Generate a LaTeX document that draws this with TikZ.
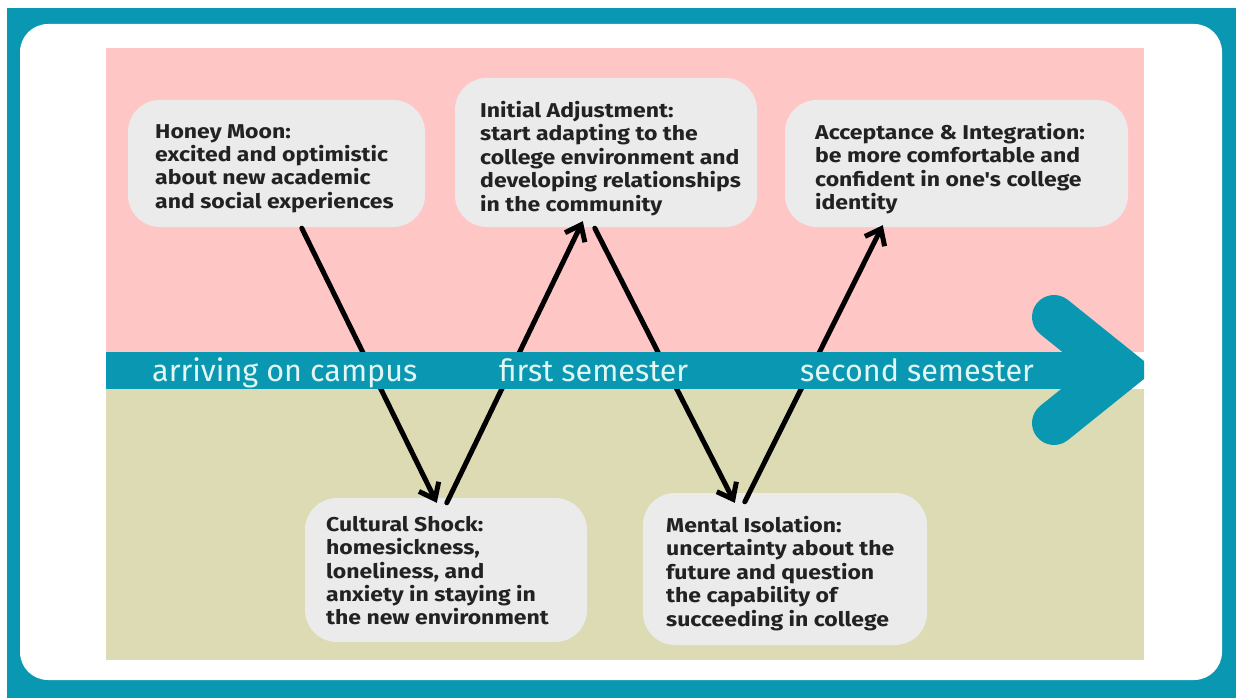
\documentclass[tikz,border=0pt]{standalone}
\usepackage{fontspec}
\setmainfont{Fira Sans}
\newfontfamily\boxfont{Fira Sans Bold}[FakeStretch=1.15]
\newfontfamily\bandfont{Fira Sans}
\usetikzlibrary{arrows.meta,calc}
\definecolor{frameteal}{HTML}{0A97B1}
\definecolor{topzone}{HTML}{FFC6C6}
\definecolor{lowzone}{HTML}{DCDBB4}
\definecolor{cardgray}{HTML}{EBEBEB}
\definecolor{inktext}{HTML}{222222}
\definecolor{bandtext}{HTML}{E2F6F3}

\begin{document}
\begin{tikzpicture}[x=1pt,y=-1pt,
  card/.style={fill=cardgray, draw=none, rounded corners=32pt, inner sep=0pt},
  cardtext/.style={anchor=north west, inner sep=0pt, align=left, text=inktext,
    font=\boxfont\fontsize{20}{23.4}\selectfont},
  bandlabel/.style={anchor=base west, inner sep=0pt, text=bandtext,
    font=\bandfont\fontsize{30.5}{34}\selectfont},
  flow/.style={line width=5pt, line cap=round, line join=round, black,
    -{Straight Barb[length=14pt, width=22pt]}}]

% canvas and outer frame
\useasboundingbox (0,0) rectangle (1236,698);
\fill[white] (0,0) rectangle (1236,698);
\fill[frameteal] (7,8) rectangle (1236,698);
\fill[white, rounded corners=28pt] (20,24) rectangle (1222,680);

% upper and lower zones
\fill[topzone] (106,48) rectangle (1144,352);
\fill[lowzone] (106,389) rectangle (1144,660);

% stage cards
\node[card, minimum width=297pt, minimum height=127pt] (hm) at (276.5,163.5) {};
\node[card, minimum width=302pt, minimum height=149pt] (ia) at (606,152.5) {};
\node[card, minimum width=343pt, minimum height=127pt] (ai) at (956.5,163.5) {};
\node[card, minimum width=282pt, minimum height=144pt] (cs) at (446,570) {};
\node[card, minimum width=284pt, minimum height=152pt] (mi) at (785,569) {};

\node[cardtext] (hmt) at (155,124) {Honey Moon:\\excited and optimistic\\about new academic\\and social experiences};
\node[cardtext] (iat) at (480,101) {Initial Adjustment:\\start adapting to the\\college environment and\\developing relationships\\in the community};
\node[cardtext] (ait) at (815,123) {Acceptance \& Integration:\\be more comfortable and\\confident in one's college\\identity};
\node[cardtext] (cst) at (326,516) {Cultural Shock:\\homesickness,\\loneliness, and\\anxiety in staying in\\the new environment};
\node[cardtext] (mit) at (666,516) {Mental Isolation:\\uncertainty about the\\future and question\\the capability of\\succeeding in college};

% zig-zag between the stages
\draw[flow] ($(hm.south west)+(174,1)$) -- ($(cs.north west)+(132,5)$);
\draw[flow] ($(cs.north west)+(142,5)$) -- ($(ia.south west)+(128,-6)$);
\draw[flow] ($(ia.south west)+(140,1)$) -- ($(mi.north west)+(92,10)$);
\draw[flow] ($(mi.north west)+(102,9)$) -- ($(ai.south west)+(98,-2)$);

% timeline band with its chevron head
\fill[frameteal] (106,352) rectangle (1125,389);
\begin{scope}
  \clip (0,0) rectangle (1144,698);
  \draw[frameteal, line width=44pt, line cap=round, line join=miter, miter limit=10]
    (1054,317) -- (1120,370) -- (1054,423);
\end{scope}

\node[bandlabel] (t1) at (152,381) {arriving on campus};
\node[bandlabel] (t2) at (499,381) {first semester};
\node[bandlabel] (t3) at (800,381) {second semester};

\end{tikzpicture}
\end{document}
